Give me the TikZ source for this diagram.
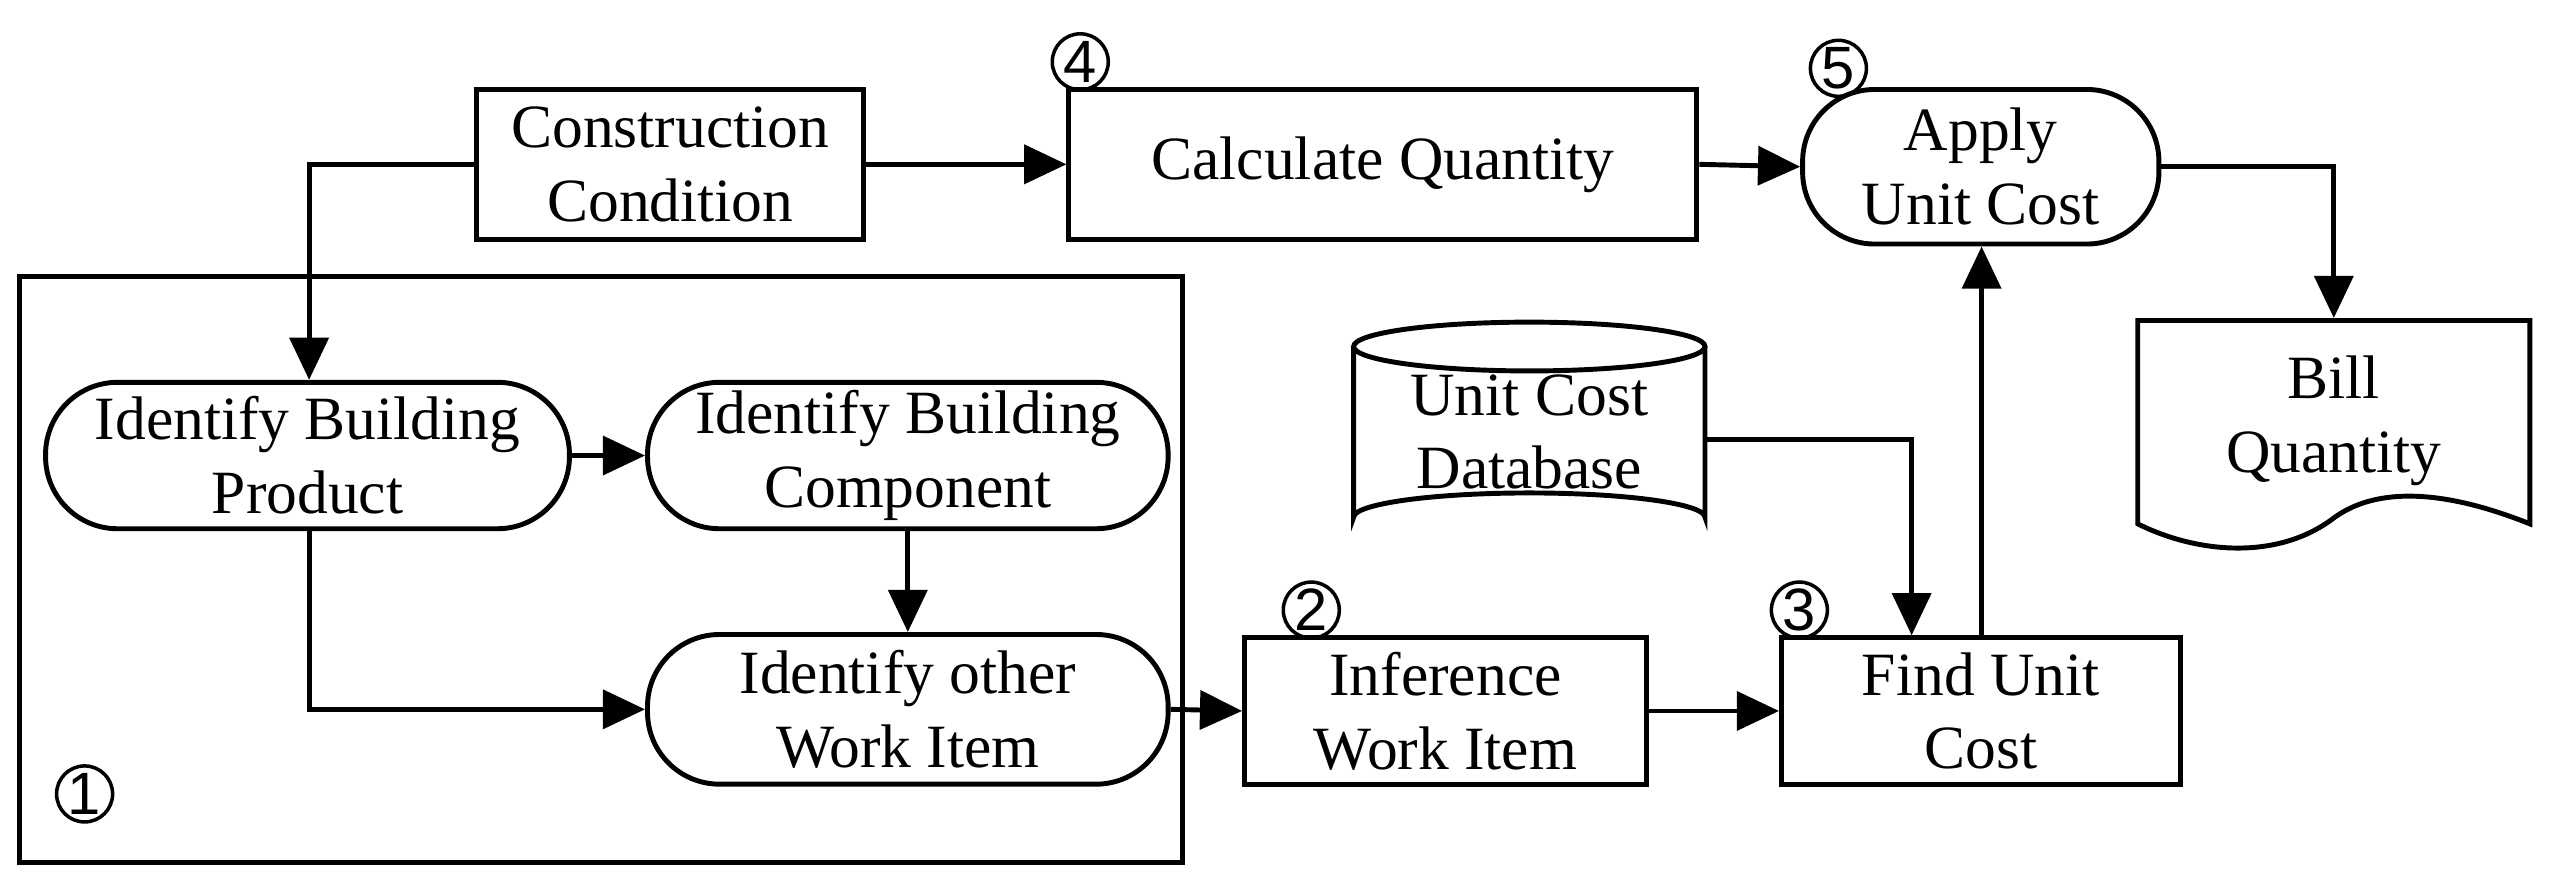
\documentclass[tikz,border=0pt]{standalone}
\usepackage{fontspec}
\setmainfont{Liberation Serif}
\newfontfamily\numfont{Liberation Sans}
\usetikzlibrary{arrows.meta}
\def\U{0.01627}
\newcommand\mybox[7]{% name, x1,y1,x2,y2, style, text
  \node[#6, minimum width={(#4-#2)*\U cm}, minimum height={(#5-#3)*\U cm}] (#1) at ({(#2+#4)/2},{(#3+#5)/2}) {#7};}
\begin{document}
\begin{tikzpicture}[x=\U cm,y=-\U cm, line width=1.4pt,
  txt/.style={font=\fontsize{17.5}{21}\selectfont, align=center, inner sep=0pt},
  rect/.style={txt, draw},
  stad/.style={txt, draw, rounded corners=0.72cm},
  plain/.style={txt},
  arr/.style={-{Triangle[length=12pt,width=11pt]}},
  num/.style={circle, draw, line width=1pt, minimum size=0.56cm, inner sep=0pt, font=\numfont\fontsize{17}{17}\selectfont}]
\useasboundingbox (0,0) rectangle (1568,544);
\draw (12,170) rectangle (727,530);
\mybox{cc}{293}{55}{531}{147}{rect}{Construction\\Condition}
\mybox{cq}{657}{55}{1043}{147}{rect}{Calculate Quantity}
\mybox{ap}{1108}{55}{1327}{150}{stad}{Apply\\Unit Cost}
\mybox{bp}{28}{235}{350}{325}{stad}{Identify Building\\Product}
\mybox{bc}{398}{235}{718}{325}{stad}{Identify Building\\Component}
\mybox{ow}{398}{390}{718}{482}{stad}{Identify other\\Work Item}
\mybox{iw}{765}{392}{1012}{482}{rect}{Inference\\Work Item}
\mybox{fu}{1095}{392}{1340}{482}{rect}{Find Unit\\Cost}
% database cylinder
\draw (832,213) -- (832,318) arc[start angle=180,end angle=360,x radius=108,y radius=15] -- (1048,213);
\draw (940,213) ellipse [x radius=108, y radius=15];
\mybox{db}{832}{198}{1048}{333}{plain}{Unit Cost\\Database}
% document
\draw (1314,197) -- (1555,197) -- (1555,322) .. controls (1500,300) and (1460,300) .. (1435,318) .. controls (1400,345) and (1350,340) .. (1314,322) -- cycle;
\mybox{bq}{1314}{197}{1555}{320}{plain}{Bill\\Quantity}
% numbers
\node[num] at (52,488) {1};
\node[num] at (806,375) {2};
\node[num] at (1106,375) {3};
\node[num] at (664,38) {4};
\node[num] at (1130,42) {5};
% arrows
\draw[arr] (cc.west) -| (bp.north -| 190,0);
\draw[arr] (cc.east) -- (cq.west);
\draw[arr] (cq.east) -- (ap.west);
\draw[arr] (ap.east) -| (bq.north);
\draw[arr] (bp.east) -- (bc.west);
\draw[arr] (bc.south) -- (ow.north);
\draw[arr] (bp.south -| 190,0) |- (ow.west);
\draw[arr] (ow.east) -- (iw.west);
\draw[arr] (iw.east) -- (fu.west);
\draw[arr] (db.east |- 0,270) -| (fu.north -| 1175,0);
\draw[arr] (fu.north -| 1218,0) -- (ap.south -| 1218,0);
\end{tikzpicture}
\end{document}
